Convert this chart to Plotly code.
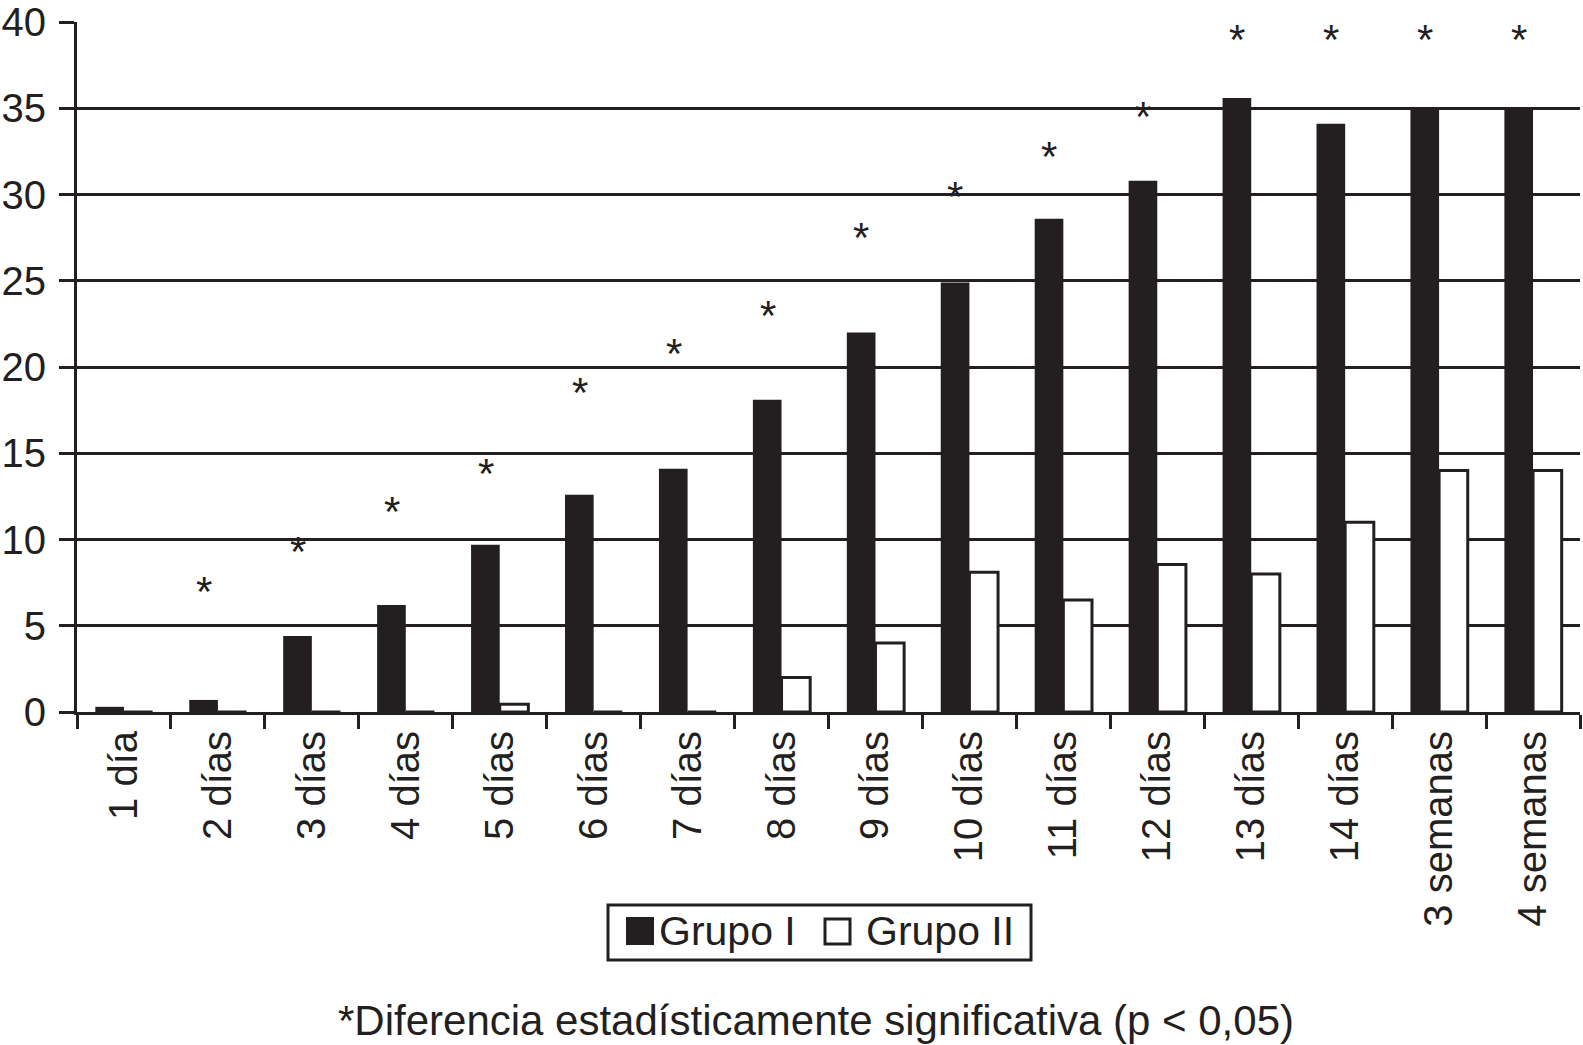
import plotly.graph_objects as go

categories = ["1 día", "2 días", "3 días", "4 días", "5 días", "6 días", "7 días",
              "8 días", "9 días", "10 días", "11 días", "12 días", "13 días",
              "14 días", "3 semanas", "4 semanas"]
grupo_1 = [0.3, 0.7, 4.4, 6.2, 9.7, 12.6, 14.1, 18.1, 22.0, 24.9, 28.6, 30.8,
           35.6, 34.1, 35.0, 35.0]
grupo_2 = [0, 0, 0, 0, 0.45, 0, 0, 2.0, 4.0, 8.1, 6.5, 8.55, 8.0, 11.0, 14.0, 14.0]
# height of the significance asterisk for each category (None = no asterisk)
asterisk_y = [None, 7.3, 9.6, 11.9, 14.1, 18.8, 21.1, 23.3, 27.8, 30.2, 32.5,
              34.8, 39.3, 39.3, 39.3, 39.3]
y_ticks = [0, 5, 10, 15, 20, 25, 30, 35, 40]
series_names = ["Grupo I", "Grupo II"]
footnote = "*Diferencia estadísticamente significativa (p < 0,05)"

INK = "#231f20"
FONT = "Liberation Sans, Arial, sans-serif"

W, H = 1583, 1045
M_L, M_R, M_T, M_B = 77, 3, 22, 333
PW, PH = W - M_L - M_R, H - M_T - M_B


def px(xp):
    return (xp - M_L) / PW


def py(yp):
    return (H - M_B - yp) / PH


fig = go.Figure()
fig.add_trace(go.Bar(name=series_names[0], x=categories, y=grupo_1, showlegend=False,
                     marker=dict(color=INK, line=dict(width=0))))
fig.add_trace(go.Bar(name=series_names[1], x=categories, y=grupo_2, showlegend=False,
                     marker=dict(color="white", line=dict(color=INK, width=3))))

for cat, ay in zip(categories, asterisk_y):
    if ay is None:
        continue
    fig.add_annotation(x=cat, y=ay, text="*", showarrow=False,
                       xshift=-14, yshift=-5,
                       font=dict(family=FONT, size=42, color=INK))

# footnote
fig.add_annotation(xref="paper", yref="paper", x=px(816), y=py(1020),
                   text=footnote, showarrow=False, xanchor="center", yanchor="middle",
                   font=dict(family=FONT, size=42, color=INK))

# legend (box, swatches, labels)
shapes = [
    dict(type="rect", xref="paper", yref="paper", x0=px(608), x1=px(1031),
         y0=py(960), y1=py(905), line=dict(color=INK, width=3), fillcolor="white",
         layer="above"),
    dict(type="rect", xref="paper", yref="paper", x0=px(626), x1=px(654),
         y0=py(945), y1=py(917), line=dict(width=0), fillcolor=INK, layer="above"),
    dict(type="rect", xref="paper", yref="paper", x0=px(825), x1=px(850),
         y0=py(944), y1=py(919), line=dict(color=INK, width=3), fillcolor="white",
         layer="above"),
]
fig.add_annotation(xref="paper", yref="paper", x=px(657), y=py(931),
                   text=series_names[0], showarrow=False, xanchor="left", yanchor="middle",
                   font=dict(family=FONT, size=41, color=INK))
fig.add_annotation(xref="paper", yref="paper", x=px(864), y=py(931),
                   text=series_names[1], showarrow=False, xanchor="left", yanchor="middle",
                   font=dict(family=FONT, size=41, color=INK))

fig.update_layout(
    width=W, height=H,
    margin=dict(l=M_L, r=M_R, t=M_T, b=M_B, autoexpand=False),
    plot_bgcolor="white", paper_bgcolor="white",
    barmode="group", bargap=0.39, bargroupgap=0,
    font=dict(family=FONT, size=40, color=INK),
    showlegend=False,
    shapes=shapes,
)
fig.update_xaxes(type="category", tickangle=-90, showline=True, linecolor=INK,
                 linewidth=3, ticks="outside", tickson="boundaries", ticklen=14,
                 tickwidth=3, tickcolor=INK, showgrid=False, automargin=False,
                 tickfont=dict(family=FONT, size=40, color=INK))
fig.update_yaxes(range=[0, 40], tickvals=y_ticks, showline=True, linecolor=INK,
                 linewidth=3, ticks="outside", ticklen=15, tickwidth=3, tickcolor=INK,
                 showgrid=True, gridcolor=INK, gridwidth=3, zeroline=False,
                 ticklabelstandoff=5, automargin=False,
                 tickfont=dict(family=FONT, size=40, color=INK))

fig.write_html("out.html", config={"displayModeBar": False},
               post_script="document.body.style.margin='0';")
